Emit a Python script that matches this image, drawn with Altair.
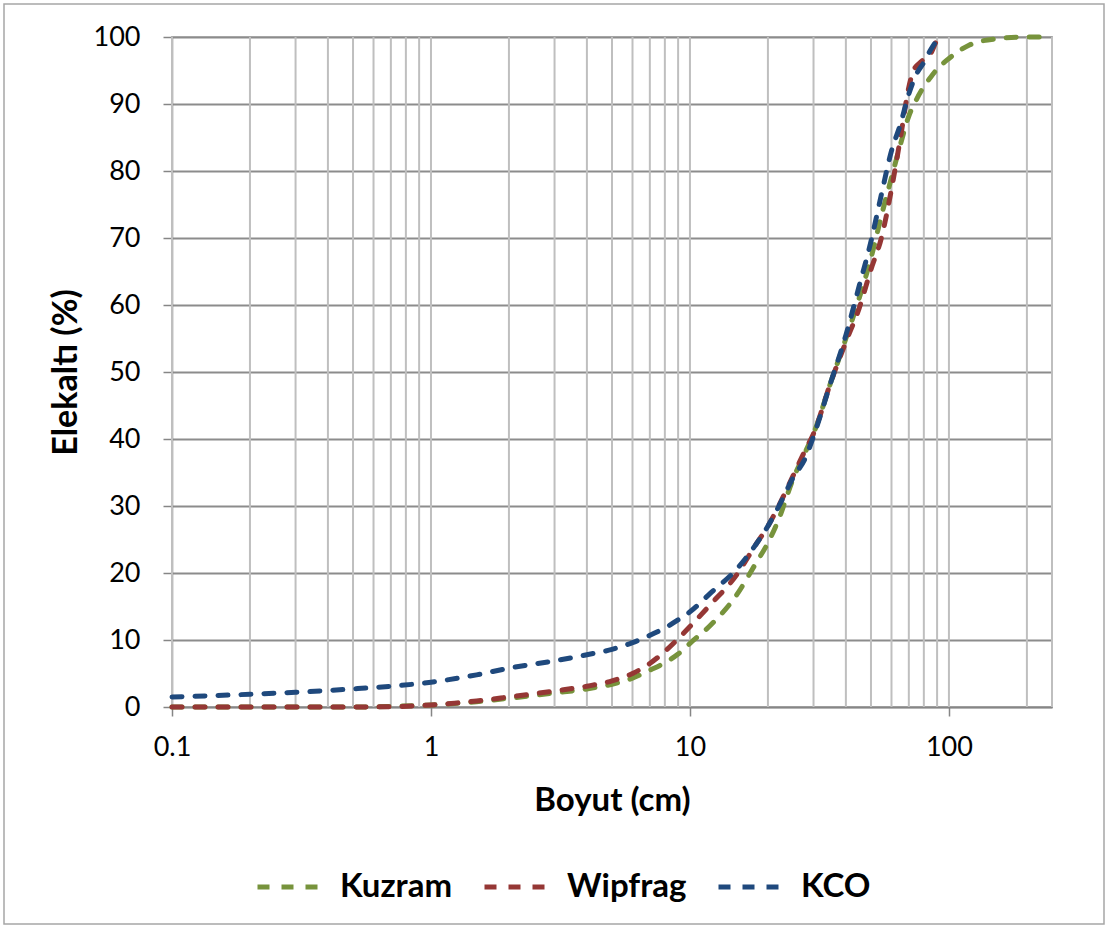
import altair as alt
import pandas as pd

# sizes (cm)
kuz_x = [0.1, 0.2, 0.3, 0.5, 0.7, 1, 1.5, 2, 3, 4, 5, 6, 7, 8, 9, 10, 12, 15, 18, 20, 22, 25, 28, 30, 35, 40, 45, 50, 55, 60, 65, 70, 75, 80, 85, 90, 100, 120, 150, 200, 250]
kuz_y = [0, 0, 0, 0, 0.1, 0.3, 0.8, 1.3, 2.1, 2.7, 3.4, 4.3, 5.5, 6.6, 7.9, 9.5, 12.2, 16.5, 21.5, 24.5, 28, 34, 38.2, 40.8, 48.5, 55, 61, 67, 73.5, 79, 84, 88.2, 90.7, 92.6, 94, 95.2, 96.8, 98.8, 99.7, 100, 100]

wip_x = [0.1, 0.2, 0.3, 0.5, 0.7, 1, 1.5, 2, 3, 4, 5, 6, 7, 8, 9, 10, 12, 15, 18, 20, 22, 25, 28, 30, 35, 40, 45, 50, 55, 60, 65, 70, 73, 78, 85, 90, 95]
wip_y = [0, 0, 0, 0, 0.05, 0.3, 0.9, 1.5, 2.4, 3.1, 3.9, 5.0, 6.5, 8.3, 10.2, 12, 15.3, 19.5, 24.3, 27, 30, 34.5, 38.5, 40.8, 48.5, 54.5, 59.5, 65.3, 70.2, 77.3, 85, 92.5, 95, 96.3, 97.5, 99.5, 100]

kco_x = [0.1, 0.2, 0.3, 0.5, 0.7, 1, 1.5, 2, 3, 4, 5, 6, 7, 8, 9, 10, 12, 15, 18, 20, 22, 25, 28, 30, 35, 40, 45, 50, 55, 60, 65, 70, 75, 80, 85, 90, 93]
kco_y = [1.5, 1.9, 2.2, 2.7, 3.1, 3.7, 4.8, 5.8, 6.9, 7.8, 8.6, 9.6, 10.7, 11.8, 13.0, 14.2, 17, 20.4, 24.3, 27, 29.9, 34.2, 37.3, 40.4, 48.5, 55.5, 62.8, 69.5, 76.7, 83, 87, 91.5, 94.5, 96.2, 98.1, 99.5, 100]

series_names = ["Kuzram", "Wipfrag", "KCO"]
series_colors = ["#77933C", "#953735", "#1F497D"]

x_ticks = [0.1, 1, 10, 100]
y_ticks = [0, 10, 20, 30, 40, 50, 60, 70, 80, 90, 100]
grid_x = [0.1, 0.2, 0.3, 0.4, 0.5, 0.6, 0.7, 0.8, 0.9,
          1, 2, 3, 4, 5, 6, 7, 8, 9,
          10, 20, 30, 40, 50, 60, 70, 80, 90,
          100, 200, 250]

rows = []
for name, xs, ys in [("Kuzram", kuz_x, kuz_y), ("Wipfrag", wip_x, wip_y), ("KCO", kco_x, kco_y)]:
    for i, (a, b) in enumerate(zip(xs, ys)):
        rows.append({"series": name, "size": a, "pct": b, "i": i})
df = pd.DataFrame(rows)

FONT = "Lato"

xscale = alt.Scale(type="log", domain=[0.1, 250], nice=False)
yscale = alt.Scale(domain=[0, 100], nice=False)

x_axis = alt.Axis(values=x_ticks, format="~g", grid=False, title="Boyut (cm)",
                  tickSize=9, tickColor="#868686", tickWidth=1.5,
                  domainColor="#868686", domainWidth=1.5,
                  labelFont=FONT, labelFontSize=27, labelColor="#000000", labelPadding=18,
                  labelFlush=False, labelOverlap=False,
                  titleFont=FONT, titleFontSize=33, titleFontWeight="bold", titleColor="#000000",
                  titleX=440, titleY=93, titleBaseline="middle", titleAlign="center")

grid = alt.Chart(pd.DataFrame({"g": grid_x})).mark_rule(
    color="#BFBFBF", strokeWidth=2
).encode(x=alt.X("g:Q", scale=xscale, axis=x_axis, title="Boyut (cm)"))

lines = alt.Chart(df).mark_line(
    strokeWidth=5, strokeDash=[10, 13], strokeCap="round", interpolate="monotone"
).encode(
    x=alt.X("size:Q", scale=xscale, axis=x_axis, title="Boyut (cm)"),
    y=alt.Y("pct:Q", scale=yscale,
            axis=alt.Axis(values=y_ticks, grid=True, gridColor="#8C8C8C", gridWidth=2,
                          title="Elekaltı (%)",
                          tickSize=9, tickColor="#868686", tickWidth=1.5,
                          domainColor="#868686", domainWidth=1.5,
                          labelFont=FONT, labelFontSize=27, labelColor="#000000", labelPadding=23,
                          titleFont=FONT, titleFontSize=34, titleFontWeight="bold", titleColor="#000000",
                          titleX=-106, titleY=335, titleAngle=270, titleBaseline="middle", titleAlign="center")),
    color=alt.Color("series:N", scale=alt.Scale(domain=series_names, range=series_colors),
                    sort=series_names,
                    legend=alt.Legend(title=None, orient="none", direction="horizontal",
                                      legendX=83, legendY=815,
                                      symbolType="stroke", symbolSize=4225, symbolStrokeWidth=5,
                                      symbolDash=[12, 12],
                                      labelFont=FONT, labelFontSize=33, labelFontWeight="bold",
                                      labelColor="#000000", labelOffset=15, columnPadding=21)),
    order="i:Q",
)

border = alt.Chart(alt.Data(values=[{}])).mark_rect(
    fill=None, stroke="#A6A6A6", strokeWidth=1.5
).encode(x=alt.value(-168), x2=alt.value(932), y=alt.value(-33), y2=alt.value(887))

chart = alt.layer(grid, lines, border).properties(
    width=880, height=670,
    autosize=alt.AutoSizeParams(type="none"),
    padding={"left": 172, "top": 37, "right": 55, "bottom": 221},
    background="white",
).configure_view(stroke="#BFBFBF", strokeWidth=2)

chart.save("out.html", embed_options={"renderer": "svg", "actions": False})
